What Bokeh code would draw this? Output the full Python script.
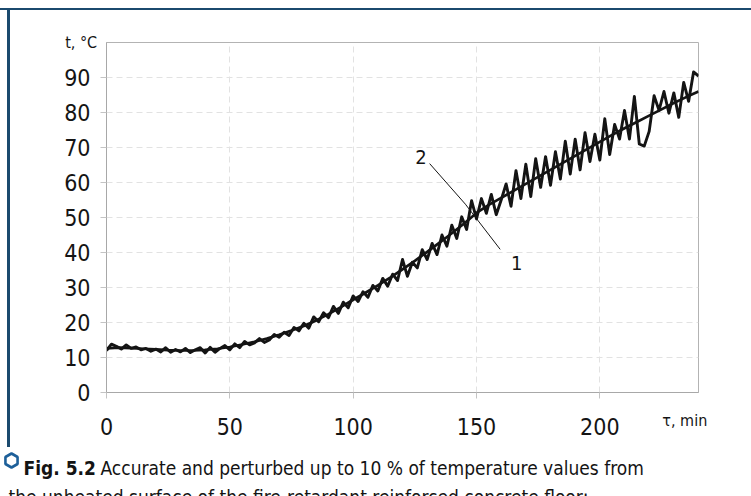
from bokeh.plotting import figure
from bokeh.layouts import column, row
from bokeh.models import Range1d, Label, FixedTicker, Spacer
from bokeh.embed import file_html
from bokeh.resources import INLINE

# ---- data ----
x_ticks = [0, 50, 100, 150, 200]
y_ticks = [0, 10, 20, 30, 40, 50, 60, 70, 80, 90]

# curve 1: accurate temperature (every 5 min)
t_accurate = list(range(0, 241, 5))
v_accurate = [12.6, 12.8, 12.7, 12.5, 12.3, 12.1, 12.0, 12.0, 12.2, 12.5,
              13.0, 13.7, 14.5, 15.4, 16.5, 17.7, 19.0, 20.6, 22.4, 24.4,
              26.5, 28.5, 30.6, 32.8, 35.2, 37.6, 40.2, 42.8, 45.5, 48.3,
              51.3, 53.6, 55.6, 57.6, 59.6, 61.6, 63.6, 65.6, 67.6, 69.6,
              71.6, 73.6, 75.5, 77.3, 79.1, 80.9, 82.7, 84.4, 86.0]

# curve 2: perturbed (up to 10 %) temperature (every 2 min)
t_perturbed = list(range(0, 241, 2))
v_perturbed = [12.0, 13.8, 13.2, 12.4, 13.6, 12.6, 13.0, 12.2, 12.6, 11.8,
               12.4, 11.6, 12.8, 11.5, 12.3, 11.6, 12.6, 11.4, 12.2, 12.8,
               11.3, 12.9, 11.5, 12.6, 13.4, 12.2, 13.9, 12.8, 14.6, 13.6,
               14.2, 15.4, 14.3, 15.0, 16.6, 15.8, 17.2, 16.3, 18.6, 17.6,
               19.8, 18.4, 21.6, 20.2, 22.8, 21.4, 24.6, 22.6, 25.8, 24.2,
               27.6, 26.0, 28.8, 27.2, 30.6, 29.0, 32.6, 30.4, 33.8, 32.0,
               38.0, 33.2, 37.2, 35.6, 40.8, 38.0, 42.6, 39.4, 45.0, 41.8,
               47.8, 44.0, 50.2, 46.6, 54.8, 49.6, 55.4, 51.2, 56.6, 50.8,
               55.0, 59.6, 53.2, 63.4, 55.4, 65.2, 56.0, 66.8, 58.6, 67.4,
               59.2, 68.8, 61.0, 71.8, 62.4, 72.4, 63.6, 74.2, 66.0, 73.8,
               66.4, 78.2, 68.0, 76.6, 72.4, 80.6, 72.4, 84.6, 71.0, 70.4,
               74.6, 84.8, 80.6, 86.0, 79.8, 85.6, 78.6, 88.6, 83.2, 91.6,
               90.4]

# leader lines for the curve numbers
lead2_x = [131.0, 145.5]
lead2_y = [65.4, 53.8]
lead1_x = [145.5, 159.6]
lead1_y = [53.8, 40.9]

FONT = "DejaVu Sans Condensed, Roboto"
INK = "#141414"
FRAME_BLUE = "#1b4a6e"
HEX_BLUE = "#1d5f99"
NBSP = "\u00a0"

# ---------------- chart ----------------
p = figure(frame_width=592, frame_height=350,
           min_border_left=96, min_border_right=53,
           min_border_top=32, min_border_bottom=55,
           x_range=Range1d(0, 240), y_range=Range1d(0, 100),
           output_backend="svg", toolbar_location=None,
           background_fill_color="white", border_fill_color="white")

p.outline_line_color = "#b3b3b3"
p.outline_line_width = 1

for ax in (p.xaxis[0], p.yaxis[0]):
    ax.axis_line_color = "#a8a8a8"
    ax.major_tick_line_color = "#c4c4c4"
    ax.major_tick_in = 0
    ax.major_tick_out = 6
    ax.minor_tick_line_color = None
    ax.major_label_text_font = FONT
    ax.major_label_text_font_size = "23px"
    ax.major_label_text_color = INK
    ax.axis_label_text_font = FONT
    ax.axis_label_text_font_size = "16px"
    ax.axis_label_text_font_style = "normal"
    ax.axis_label_text_color = INK

p.xaxis.ticker = FixedTicker(ticks=x_ticks)
p.yaxis.ticker = FixedTicker(ticks=y_ticks)
p.xaxis.major_label_standoff = 19
p.yaxis.major_label_standoff = 10

p.yaxis.axis_label = "t, \u00b0C"
p.xaxis.axis_label = "\u03c4, min" + NBSP * 6
if "axis_label_align" in p.yaxis[0].properties():
    p.yaxis.axis_label_align = "end"
    p.xaxis.axis_label_align = "end"
p.yaxis.axis_label_orientation = "horizontal"
p.yaxis.axis_label_standoff = -36
p.xaxis.axis_label_standoff = -27

p.xgrid.ticker = FixedTicker(ticks=x_ticks)
p.ygrid.ticker = FixedTicker(ticks=y_ticks)
for g in (p.xgrid[0], p.ygrid[0]):
    g.grid_line_color = "#e2e2e2"
    g.grid_line_dash = "6 4"
    g.grid_line_width = 1

p.line(t_accurate, v_accurate, line_color=INK, line_width=2.7)
p.line(t_perturbed, v_perturbed, line_color=INK, line_width=2.9, line_join="round")

p.line(lead2_x, lead2_y, line_color=INK, line_width=1)
p.line(lead1_x, lead1_y, line_color=INK, line_width=1)

p.add_layout(Label(x=127.5, y=67.3, text="2", text_font=FONT, text_font_size="20px",
                   text_align="center", text_baseline="middle", text_color=INK))
p.add_layout(Label(x=166.3, y=36.9, text="1", text_font=FONT, text_font_size="20px",
                   text_align="center", text_baseline="middle", text_color=INK))

# ---------------- caption ----------------
cap = figure(width=751, height=49, min_border=0, x_axis_type=None, y_axis_type=None,
             x_range=Range1d(0, 751), y_range=Range1d(0, 49),
             toolbar_location=None, output_backend="svg",
             background_fill_color="white", border_fill_color="white")
cap.outline_line_color = None
cap.scatter([11], [36], marker="hex", angle=90, angle_units="deg", size=14,
            fill_color=None, line_color=HEX_BLUE, line_width=2.6)
cap.add_layout(Label(x=23, y=29, text="Fig. 5.2", text_font=FONT, text_font_size="19px",
                     text_font_style="bold", text_align="left", text_baseline="alphabetic",
                     text_color=INK))
cap.add_layout(Label(x=100, y=29,
                     text="Accurate and perturbed up to 10 % of temperature values from",
                     text_font=FONT, text_font_size="19px", text_align="left",
                     text_baseline="alphabetic", text_color=INK))
cap.add_layout(Label(x=8, y=0,
                     text="the unheated surface of the fire-retardant reinforced concrete floor;",
                     text_font=FONT, text_font_size="19px", text_align="left",
                     text_baseline="alphabetic", text_color=INK))

band = {"background-color": FRAME_BLUE}
layout = column(Spacer(width=751, height=8),
                Spacer(width=751, height=2, styles=band),
                row(Spacer(width=7, height=437),
                    Spacer(width=3, height=437, styles=band),
                    p),
                cap)

open("out.html", "w").write(file_html(layout, INLINE))
